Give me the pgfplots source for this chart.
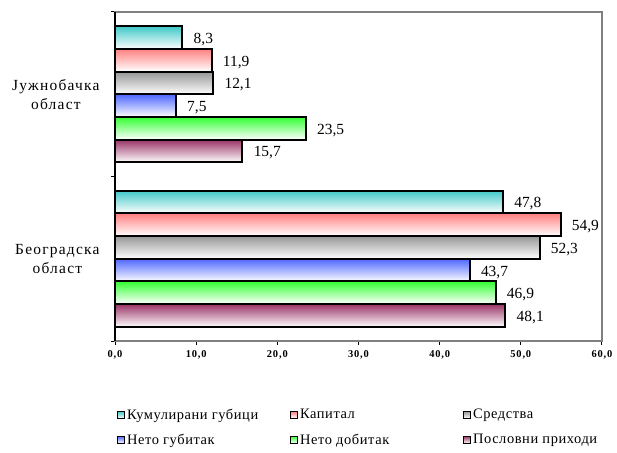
\documentclass[border=0pt]{standalone}
\usepackage{pgfplots}
\pgfplotsset{compat=1.18}
\usepackage{fontspec}
\setmainfont{Liberation Serif}
\newfontfamily\wide[LetterSpace=8]{Liberation Serif}
\newfontfamily\legfont[LetterSpace=4]{Liberation Serif}
\definecolor{cCum}{HTML}{40C8C8}
\definecolor{cKap}{HTML}{FF8080}
\definecolor{cSre}{HTML}{969696}
\definecolor{cNgu}{HTML}{4D66FF}
\definecolor{cNdo}{HTML}{33FF33}
\definecolor{cPos}{HTML}{993366}
\pgfplotsset{
  bb/.style={draw=black, line width=2bp, top color=#1, bottom color=white},
}
\begin{document}
\begin{tikzpicture}
\path[use as bounding box] (0bp,0bp) rectangle (617bp,453bp);
\begin{axis}[
  at={(115bp,112bp)}, anchor=south west,
  scale only axis, width=487bp, height=329bp,
  xbar, bar width=22.7bp,
  xmin=0, xmax=60, xtick distance=10,
  ymin=-0.5, ymax=1.5,
  ytick={-0.5,0.5,1.5}, yticklabels={},
  extra y ticks={0,1},
  extra y tick labels={{Београдска\\област},{Јужнобачка\\област}},
  extra y tick style={major tick length=0pt},
  yticklabel style={align=center, font=\wide\fontsize{15.5}{19}\selectfont, xshift=-12bp},
  xticklabel style={font=\wide\bfseries\fontsize{10.5}{11}\selectfont, yshift=-2bp},
  /pgf/number format/assume math mode=true,
  /pgf/number format/.cd, use comma, fixed, fixed zerofill, precision=1,
  /pgfplots/.cd,
  tick align=outside, major tick length=4bp,
  tick style={black, line width=1bp},
  xtick pos=bottom, ytick pos=left,
  axis line style={draw=gray, line width=1.5bp},
  nodes near coords,
  every node near coord/.append style={font=\fontsize{15.5}{16}\selectfont, anchor=west, xshift=7bp, yshift=-2bp},
  legend columns=3,
  legend cell align=left,
  legend style={at={(0.004,-0.2)}, anchor=north west, draw=none, fill=none,
    font=\legfont\fontsize{14.5}{15}\selectfont, inner sep=0pt, row sep=9bp,
    /tikz/every even column/.style={column sep=1bp}},
  legend image code/.code={\draw[#1, line width=1pt] (0bp,-3.5bp) rectangle (7bp,3.5bp);},
  clip=false,
]
\addplot[bb=cCum, bar shift=56.75bp] coordinates {(8.3,1)};
\addlegendentry{\makebox[160bp][l]{Кумулирани губици}}
\addplot[bb=cKap, bar shift=34.05bp] coordinates {(11.9,1)};
\addlegendentry{\makebox[160bp][l]{Капитал}}
\addplot[bb=cSre, bar shift=11.35bp] coordinates {(12.1,1)};
\addlegendentry{\makebox[160bp][l]{Средства}}
\addplot[bb=cNgu, bar shift=-11.35bp] coordinates {(7.5,1)};
\addlegendentry{\makebox[160bp][l]{Нето губитак}}
\addplot[bb=cNdo, bar shift=-34.05bp] coordinates {(23.5,1)};
\addlegendentry{\makebox[160bp][l]{Нето добитак}}
\addplot[bb=cPos, bar shift=-56.75bp] coordinates {(15.7,1)};
\addlegendentry{\makebox[160bp][l]{Пословни приходи}}
\addplot[bb=cCum, bar shift=56.75bp, forget plot] coordinates {(47.8,0)};
\addplot[bb=cKap, bar shift=34.05bp, forget plot] coordinates {(54.9,0)};
\addplot[bb=cSre, bar shift=11.35bp, forget plot] coordinates {(52.3,0)};
\addplot[bb=cNgu, bar shift=-11.35bp, forget plot] coordinates {(43.7,0)};
\addplot[bb=cNdo, bar shift=-34.05bp, forget plot] coordinates {(46.9,0)};
\addplot[bb=cPos, bar shift=-56.75bp, forget plot] coordinates {(48.1,0)};
\draw[black, line width=1.5bp] (rel axis cs:0,0) -- (rel axis cs:0,1);
\end{axis}
\end{tikzpicture}
\end{document}
